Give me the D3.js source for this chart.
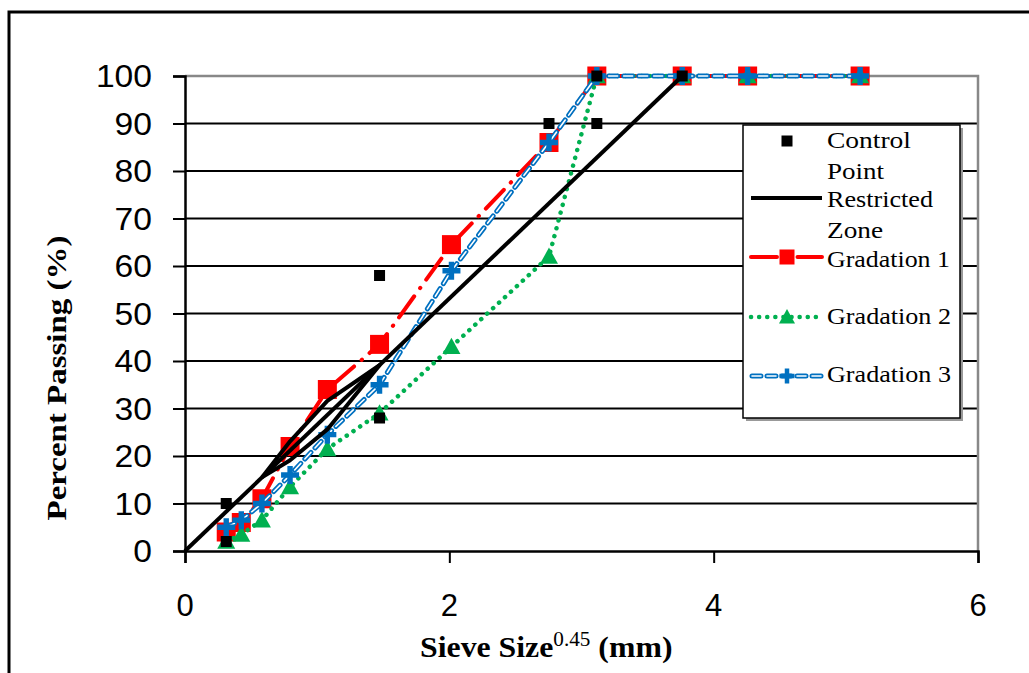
<!DOCTYPE html>
<html><head><meta charset="utf-8">
<script src="https://cdn.jsdelivr.net/npm/d3@7"></script>
<style>body{margin:0;background:#fff}svg{display:block}</style>
</head><body>
<svg id="c" width="1029" height="673"></svg>
<script>
// ---- data ----
const sieveX = [0.312, 0.426, 0.582, 0.795, 1.077, 1.472, 2.016, 2.754, 3.116, 3.762, 4.257, 5.108];
const gradation1 = [4, 6, 11, 22, 34, 43.5, 64.5, 86, 100, 100, 100, 100];
const gradation2 = [2, 3.5, 6.5, 13.5, 21.5, 29, 43, 62, 100, 100, 100, 100];
const gradation3 = [5, 6.5, 10, 16, 24.5, 35, 59, 86, 100, 100, 100, 100];
const controlX = [0.312, 0.312, 1.472, 1.472, 2.754, 3.116, 3.116, 3.762];
const controlY = [2, 10, 28, 58, 90, 90, 100, 100];
const maxDensityX = [0, 3.762];
const maxDensityY = [0, 100];
const zoneX = [0.582, 0.795, 1.077, 1.472, 1.077, 0.795, 0.582];
const zoneY = [15.5, 19.1, 25.6, 39.1, 31.6, 23.1, 15.5];
const xTicks = [0, 2, 4, 6];
const yTicks = [0, 10, 20, 30, 40, 50, 60, 70, 80, 90, 100];
const legendLabels = [["Control", "Point"], ["Restricted", "Zone"], ["Gradation 1"], ["Gradation 2"], ["Gradation 3"]];

const svg = d3.select("#c");
const x = d3.scaleLinear().domain([0, 6]).range([185, 978]);
const y = d3.scaleLinear().domain([0, 100]).range([551, 76]);

// outer frame
svg.append("path").attr("d", "M9,673 V12 H1029").attr("fill", "none").attr("stroke", "#000").attr("stroke-width", 3);

// gridlines
const grid = svg.append("g");
yTicks.filter(t => t > 0 && t < 100).forEach(t => {
  grid.append("line").attr("x1", x(0)).attr("x2", x(6)).attr("y1", y(t)).attr("y2", y(t))
    .attr("stroke", "#000").attr("stroke-width", 2);
});
grid.append("path").attr("d", `M${x(0)},${y(100)} H${x(6)} V${y(0)}`).attr("fill", "none")
  .attr("stroke", "#888").attr("stroke-width", 2.5);

// axes
const yAxis = svg.append("g").attr("transform", `translate(${x(0)},0)`)
  .call(d3.axisLeft(y).tickValues(yTicks).tickSize(12).tickFormat(""));
const xAxis = svg.append("g").attr("transform", `translate(0,${y(0)})`)
  .call(d3.axisBottom(x).tickValues(xTicks).tickSize(12).tickFormat(""));
[yAxis, xAxis].forEach(a => { a.selectAll("path,line").attr("stroke", "#000").attr("stroke-width", 2); a.select(".domain").attr("stroke-width", 2.5); });

// tick labels
svg.append("g").selectAll("text").data(yTicks).join("text")
  .attr("x", 152).attr("y", d => y(d)).attr("dy", "0.36em").attr("text-anchor", "end")
  .attr("font-family", "Liberation Sans, Arial, sans-serif").attr("font-size", 31)
  .attr("textLength", d => String(d).length * 18.7).attr("lengthAdjust", "spacingAndGlyphs")
  .text(d => d);
svg.append("g").selectAll("text").data(xTicks).join("text")
  .attr("x", d => x(d)).attr("y", 616).attr("text-anchor", "middle")
  .attr("font-family", "Liberation Sans, Arial, sans-serif").attr("font-size", 31)
  .text(d => d);

// axis titles
const xt = svg.append("text").attr("transform", "translate(420,657) scale(1.06,1)")
  .attr("font-family", "Liberation Serif, Times New Roman, serif").attr("font-weight", "bold").attr("font-size", 30);
xt.append("tspan").text("Sieve Size");
xt.append("tspan").attr("font-size", 20).attr("font-weight", "normal").attr("dy", -11).text("0.45");
xt.append("tspan").attr("dy", 11).text(" (mm)");

svg.append("text").attr("transform", "translate(66,378) rotate(-90)").attr("text-anchor", "middle")
  .attr("font-family", "Liberation Serif, Times New Roman, serif").attr("font-weight", "bold").attr("font-size", 28)
  .attr("textLength", 285).attr("lengthAdjust", "spacingAndGlyphs")
  .text("Percent Passing (%)");

// series
const line = d3.line().x(d => x(d[0])).y(d => y(d[1]));
const pts = vals => sieveX.map((v, i) => [v, vals[i]]);
const plot = svg.append("g");

function squareMark(g, cx, cy, s, color) {
  g.append("rect").attr("x", cx - s / 2).attr("y", cy - s / 2).attr("width", s).attr("height", s).attr("fill", color);
}
function triMark(g, cx, cy, s, color) {
  const h = s * 0.9;
  g.append("path").attr("d", `M${cx},${cy - h * 0.55} L${cx + s / 2},${cy + h * 0.45} L${cx - s / 2},${cy + h * 0.45} Z`).attr("fill", color);
}
function plusMark(g, cx, cy, s, color) {
  g.append("path").attr("d", `M${cx - s / 2},${cy} H${cx + s / 2} M${cx},${cy - s / 2} V${cy + s / 2}`)
    .attr("stroke", color).attr("stroke-width", s * 0.3).attr("fill", "none");
}
function redLine(g, d) {
  g.append("path").attr("d", d).attr("fill", "none").attr("stroke", "#ff0000").attr("stroke-width", 4)
    .attr("stroke-dasharray", "26,10,0.5,10").attr("stroke-linecap", "round");
}
function greenLine(g, d) {
  g.append("path").attr("d", d).attr("fill", "none").attr("stroke", "#00b050").attr("stroke-width", 4.5)
    .attr("stroke-dasharray", "0.1,8").attr("stroke-linecap", "round");
}
function blueLine(g, d) {
  g.append("path").attr("d", d).attr("fill", "none").attr("stroke", "#0070c0").attr("stroke-width", 5)
    .attr("stroke-dasharray", "9,6").attr("stroke-linecap", "round");
  g.append("path").attr("d", d).attr("fill", "none").attr("stroke", "#fff").attr("stroke-width", 1.6)
    .attr("stroke-dasharray", "9,6").attr("stroke-linecap", "round");
}

// Gradation 1
redLine(plot, line(pts(gradation1)));
pts(gradation1).forEach(p => squareMark(plot, x(p[0]), y(p[1]), 19, "#ff0000"));
// Gradation 2
greenLine(plot, line(pts(gradation2)));
pts(gradation2).forEach(p => triMark(plot, x(p[0]), y(p[1]), 18, "#00b050"));
// Gradation 3
blueLine(plot, line(pts(gradation3)));
pts(gradation3).forEach(p => plusMark(plot, x(p[0]), y(p[1]), 18, "#0070c0"));
// Restricted zone + max density line
plot.append("path").attr("d", line(maxDensityX.map((v, i) => [v, maxDensityY[i]])))
  .attr("fill", "none").attr("stroke", "#000").attr("stroke-width", 4);
plot.append("path").attr("d", line(zoneX.map((v, i) => [v, zoneY[i]])))
  .attr("fill", "none").attr("stroke", "#000").attr("stroke-width", 4).attr("stroke-linejoin", "round");
// Control points
controlX.forEach((v, i) => squareMark(plot, x(v), y(controlY[i]), 11, "#000"));

// legend
const lg = svg.append("g");
lg.append("rect").attr("x", 746).attr("y", 128).attr("width", 217).attr("height", 293).attr("fill", "#999");
lg.append("rect").attr("x", 743).attr("y", 125).attr("width", 217).attr("height", 293).attr("fill", "#fff")
  .attr("stroke", "#000").attr("stroke-width", 1.5);
const ltext = [[148, 179], [207, 238], [267], [324], [382]];
const lwidth = [[84, 57], [106, 56], [123], [124], [124]];
legendLabels.forEach((lines, i) => lines.forEach((t, j) => {
  lg.append("text").attr("x", 827).attr("y", ltext[i][j])
    .attr("font-family", "Liberation Serif, Times New Roman, serif").attr("font-size", 24)
    .attr("textLength", lwidth[i][j]).attr("lengthAdjust", "spacingAndGlyphs").text(t);
}));
squareMark(lg, 787, 141, 11, "#000");
lg.append("path").attr("d", "M751,198 H822").attr("stroke", "#000").attr("stroke-width", 4);
redLine(lg, "M751,257 H822");
squareMark(lg, 787, 257, 15, "#ff0000");
greenLine(lg, "M751,317 H822");
triMark(lg, 787, 317, 16, "#00b050");
blueLine(lg, "M752,376 H822");
plusMark(lg, 787, 376, 15, "#0070c0");
</script>
</body></html>
